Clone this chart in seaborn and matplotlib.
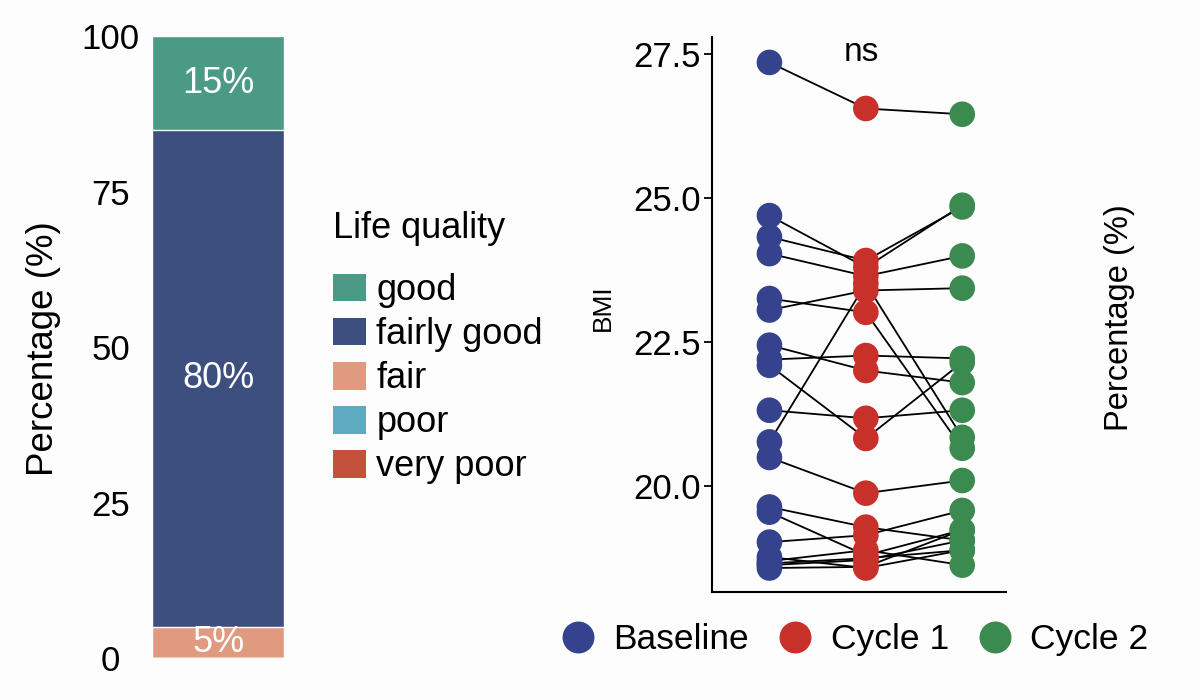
import pandas as pd
import numpy as np
import matplotlib.pyplot as plt
import seaborn as sns
from matplotlib.patches import Patch
from matplotlib.lines import Line2D

sns.set_style('white')
plt.rcParams['font.family'] = ['Liberation Sans', 'DejaVu Sans']
plt.rcParams['text.color'] = 'black'
plt.rcParams['axes.labelcolor'] = 'black'
plt.rcParams['ytick.color'] = 'black'

# Life quality shares (%)
quality_levels = ['good', 'fairly good', 'fair', 'poor', 'very poor']
quality_share = [15, 80, 5, 0, 0]
quality_colors = ['#4b9a86', '#3d4f7e', '#df9a80', '#5fa9c1', '#c4513c']

# BMI per subject at each time point
timepoints = ['Baseline', 'Cycle 1', 'Cycle 2']
bmi_baseline = [27.36, 24.70, 24.33, 24.04, 23.26, 23.06, 22.45, 22.20, 22.10, 21.32,
                20.77, 20.50, 19.64, 19.55, 19.03, 18.77, 18.70, 18.63, 18.58, 18.66]
bmi_cycle1 = [26.56, 23.80, 23.92, 23.65, 23.02, 23.40, 22.01, 22.27, 20.83, 21.18,
              23.52, 19.88, 19.29, 18.80, 19.15, 18.58, 18.89, 18.72, 18.60, 18.75]
bmi_cycle2 = [26.46, 24.88, 24.85, 24.00, 20.66, 23.44, 21.80, 22.22, 22.15, 21.32,
              20.85, 20.10, 19.06, 19.24, 19.58, 18.89, 18.63, 19.06, 19.24, 18.89]
tp_colors = ['#35438f', '#c8302a', '#3b8a4f']

fig = plt.figure(figsize=(12, 7), dpi=100)
fig.patch.set_facecolor('#fdfdfd')

# ---- left: stacked percentage bar ----
ax1 = fig.add_axes([0.127, 0.06, 0.11, 0.888])
cum = np.cumsum(quality_share[::-1])[::-1]  # top of each segment, drawn largest first
for lvl, top, col in zip(quality_levels, cum, quality_colors):
    sns.barplot(x=['all'], y=[top], color=col, width=1.0, saturation=1, ax=ax1)
ax1.set_xlim(-0.5, 0.5)
ax1.set_ylim(0, 100)
ax1.set_yticks([0, 25, 50, 75, 100])
ax1.tick_params(axis='y', labelsize=25, length=0, pad=30)
for lbl in ax1.get_yticklabels():
    lbl.set_ha('center')
ax1.set_xticks([])
ax1.set_xlabel('')
ax1.set_ylabel('Percentage (%)', fontsize=26.5)
ax1.yaxis.set_label_coords(-0.69, 0.497)
sns.despine(ax=ax1, left=True, bottom=True)
ax1.set_facecolor('none')
bottoms = cum - np.array(quality_share)
for share, b in zip(quality_share, bottoms):
    if share > 0:
        ax1.text(0, b + share / 2, f'{share}%', ha='center', va='center',
                 color='white', fontsize=26)

handles = [Patch(facecolor=c, edgecolor='none') for c in quality_colors]
leg1 = fig.legend(handles, quality_levels, title='Life quality', loc='upper left',
                  bbox_to_anchor=(0.2475, 0.75), frameon=False, fontsize=26,
                  title_fontsize=26, handlelength=0.9, handleheight=0.8,
                  handletextpad=0.3, labelspacing=0.25, borderpad=0.5)
leg1._legend_box.align = 'left'
leg1._legend_box.sep = 19.5  # extra gap under the title

# ---- right: paired BMI plot ----
n = len(bmi_baseline)
df = pd.DataFrame({
    'subject': np.tile(np.arange(n), 3),
    'timepoint': np.repeat(timepoints, n),
    'BMI': bmi_baseline + bmi_cycle1 + bmi_cycle2,
})
df['pos'] = pd.Categorical(df['timepoint'], categories=timepoints).codes

ax2 = fig.add_axes([0.593, 0.154, 0.245, 0.793])
sns.lineplot(data=df, x='pos', y='BMI', units='subject', estimator=None,
             color='black', lw=1.3, ax=ax2, legend=False)
sns.scatterplot(data=df, x='pos', y='BMI', hue='timepoint', palette=tp_colors,
                s=340, edgecolor='none', alpha=1, zorder=3, ax=ax2, legend=False)
ax2.set_xlim(-0.6, 2.45)
ax2.set_ylim(18.16, 27.8)
ax2.set_yticks([20.0, 22.5, 25.0, 27.5])
ax2.set_yticklabels(['20.0', '22.5', '25.0', '27.5'])
ax2.set_xticks([])
ax2.set_xlabel('')
ax2.set_ylabel('BMI', fontsize=19)
ax2.yaxis.set_label_coords(-0.33, 0.512)
ax2.tick_params(axis='y', labelsize=25, length=6, width=1.3, pad=2, left=True)
sns.despine(ax=ax2)
for s in ['left', 'bottom']:
    ax2.spines[s].set_linewidth(1.5)
    ax2.spines[s].set_color('black')
ax2.set_facecolor('none')
ax2.text(0.95, 27.8, 'ns', ha='center', va='top', fontsize=24)

fig.text(0.933, 0.546, 'Percentage (%)', rotation=90, ha='center', va='center',
         fontsize=23.5)

tp_handles = [Line2D([], [], marker='o', ls='none', markersize=23,
                     markerfacecolor=c, markeredgecolor='none') for c in tp_colors]
fig.legend(tp_handles, timepoints, loc='center', bbox_to_anchor=(0.712, 0.086),
           ncol=3, frameon=False, fontsize=25.5, handlelength=1.0,
           handletextpad=0.5, columnspacing=0.8)

fig.savefig('out.png', dpi=100, facecolor=fig.get_facecolor())
